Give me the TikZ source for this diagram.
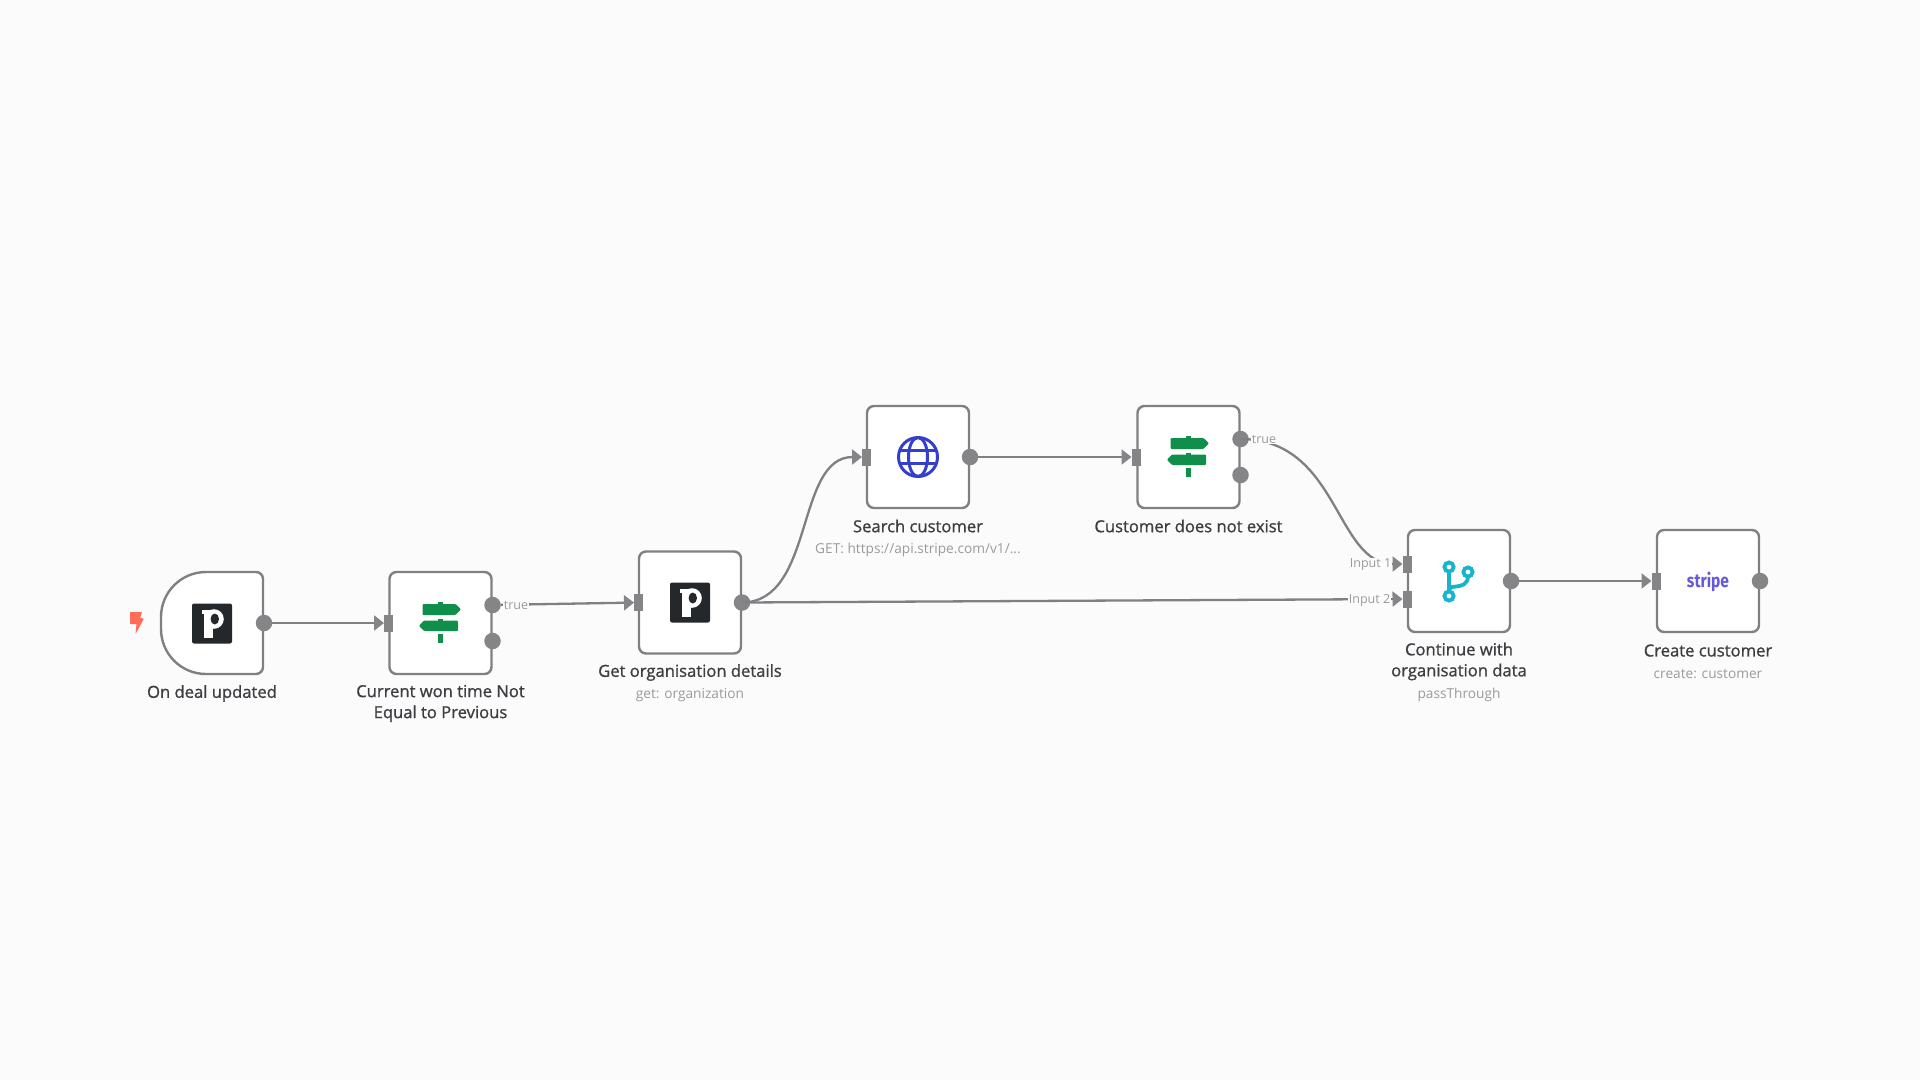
\documentclass[tikz,border=0pt]{standalone}
\usepackage{fontspec}
\setmainfont{Open Sans}
\newfontfamily\titlefont{Open Sans}[FakeBold=1]
\newfontfamily\stripefont{Fira Sans}
\usetikzlibrary{arrows.meta}
\definecolor{bgc}{HTML}{FBFBFB}
\definecolor{edgec}{HTML}{808084}
\definecolor{portc}{HTML}{858587}
\definecolor{titlec}{HTML}{3D3D42}
\definecolor{subc}{HTML}{9B9B9E}
\definecolor{greenc}{HTML}{108F4B}
\definecolor{bluec}{HTML}{3440CC}
\definecolor{tealc}{HTML}{16B5CC}
\definecolor{pdc}{HTML}{25282B}
\definecolor{stripec}{HTML}{635BDB}
\definecolor{boltc}{HTML}{FF6D5A}
\tikzset{
  box/.style={draw=edgec,line width=2.4pt,fill=white,rounded corners=7pt,minimum size=102pt,inner sep=0pt,outer sep=0pt},
  ghost/.style={minimum size=102pt,inner sep=0pt,outer sep=0pt},
  outport/.style={circle,fill=portc,minimum size=16.5pt,inner sep=0pt,outer sep=0pt},
  inport/.style={rectangle,fill=portc,minimum width=9pt,minimum height=17pt,inner sep=0pt,outer sep=0pt},
  wire/.style={draw=edgec,line width=2.3pt,-{Triangle[length=10pt,width=15pt,color=portc]}},
  title/.style={text=titlec,font=\titlefont\fontsize{16.6}{21}\selectfont,align=center,inner sep=0pt},
  subt/.style={text=subc,font=\fontsize{13.7}{18}\selectfont,align=center,inner sep=0pt},
  plabel/.style={text=subc,font=\fontsize{12.5}{14}\selectfont,fill=bgc,inner sep=0.5pt},
}
\newcommand{\pipeicon}[2]{%
  \begin{scope}[shift={(#1,#2)}]
    \fill[pdc,rounded corners=2pt] (-20,-20) rectangle (20,20);
    \fill[white] (-10.5,-14) rectangle (-1,-10);
    \fill[white] (-8,-14) rectangle (0.5,14);
    \fill[white] (2,-4.5) ellipse [x radius=9.8pt,y radius=9.8pt];
    \fill[pdc] (2.8,-4.5) ellipse [x radius=4.2pt,y radius=5.5pt];
  \end{scope}}
\newcommand{\signicon}[2]{%
  \begin{scope}[shift={(#1,#2)}]
    \fill[greenc,rounded corners=1pt] (-18,-19) -- (15,-19) -- (20.5,-13.7) -- (15,-8) -- (-18,-8) -- cycle;
    \fill[greenc,rounded corners=1pt] (17.5,-2.5) -- (-16.5,-2.5) -- (-21.5,2.7) -- (-16.5,8) -- (17.5,8) -- cycle;
    \fill[greenc] (-2.5,-21) rectangle (2.5,-18);
    \fill[greenc] (-2.5,-4.5) rectangle (2.5,-1.5);
    \fill[greenc] (-2.3,11) rectangle (2.3,20);
  \end{scope}}
\begin{document}
\begin{tikzpicture}[x=1pt,y=-1pt]
\useasboundingbox[fill=bgc] (0,0) rectangle (1920,1080);

% trigger shape
\filldraw[draw=edgec,line width=2.4pt,fill=white]
  (256,572) -- (206,572) arc[start angle=90,end angle=180,radius=45pt]
  -- (161,629) arc[start angle=180,end angle=270,radius=45pt]
  -- (256,674) arc[start angle=270,end angle=360,radius=7pt] -- (263,579) arc[start angle=0,end angle=90,radius=7pt] -- cycle;
\node[ghost] (trigger) at (212,623) {};
\node[box] (ifa) at (440.5,623) {};
\node[box] (getorg) at (690,602.5) {};
\node[box] (search) at (918,457) {};
\node[box] (ifb) at (1188.5,457) {};
\node[box] (merge) at (1459,581) {};
\node[box] (create) at (1708,581) {};

% ports
\node[outport] (o1) at (264,623) {};
\node[inport] (i2) at (388.5,623) {};
\node[outport] (o2t) at (492.5,605) {};
\node[outport] (o2f) at (492.5,641) {};
\node[inport] (i3) at (638.5,602.5) {};
\node[outport] (o3) at (742,602.5) {};
\node[inport] (i4) at (866.5,457) {};
\node[outport] (o4) at (970,457) {};
\node[inport] (i5) at (1136,457) {};
\node[outport] (o5t) at (1240.5,439) {};
\node[outport] (o5f) at (1240.5,475) {};
\node[inport] (i6a) at (1407,564) {};
\node[inport] (i6b) at (1407,599) {};
\node[outport] (o6) at (1511,581) {};
\node[inport] (i7) at (1656,581) {};
\node[outport] (o7) at (1760,581) {};

% connectors
\draw[wire] (o1) -- (i2);
\draw[wire] (o2t) -- (i3);
\draw[wire] (o3.center) .. controls (815,602) and (795,457) .. (i4);
\draw[wire] (o3) -- (i6b);
\draw[wire] (o4) -- (i5);
\draw[wire] (o5t.center) .. controls (1339,439) and (1335,564) .. (i6a);
\draw[wire] (o6) -- (i7);

% port labels
\node[plabel] (l1) at (516,605.5) {true};
\node[plabel] (l2) at (1264,439) {true};
\node[plabel,minimum height=11pt] (l3) at (1370.5,564.5) {Input 1};
\node[plabel] (l4) at (1369.5,600.5) {Input 2};

% bolt
\fill[boltc,rounded corners=0.6pt] (130,612) -- (142,612) -- (140,618) -- (144,618.5) -- (135.5,634) -- (136.5,624) -- (130,624) -- cycle;

% icons
\pipeicon{212}{623.5}
\signicon{440.5}{623}
\pipeicon{690}{602.5}
\begin{scope}[shift={(918,457)},draw=bluec,line width=3pt]
  \draw (0,0) circle [radius=19.5pt];
  \draw (0,0) ellipse [x radius=9.5pt,y radius=19.5pt];
  \draw (-18,-6.5) -- (18,-6.5);
  \draw (-18,6.5) -- (18,6.5);
\end{scope}
\signicon{1188.5}{457}
\begin{scope}[draw=tealc,line width=3.8pt]
  \draw (1449,567) circle [radius=4.6pt];
  \draw (1468,572) circle [radius=4.6pt];
  \draw (1449,596) circle [radius=4.6pt];
  \draw (1449,571) -- (1449,592);
  \draw (1468,576) .. controls (1468,584) and (1462,586) .. (1456,586.5) -- (1452,587) -- (1449,589);
\end{scope}
\node[text=stripec,font=\stripefont\fontsize{19}{20}\selectfont\bfseries,inner sep=0pt] (stripelogo) at (1708,582) {\scalebox{0.82}[1]{stripe}};

% titles
\node[title] (t1) at (212,693.5) {On deal updated};
\node[title] (t2) at (440.5,703.5) {Current won time Not\\Equal to Previous};
\node[title] (t3) at (690,672.5) {Get organisation details};
\node[subt] (s3) at (690,695) {get: organization};
\node[title] (t4) at (918,526) {Search customer};
\node[subt] (s4) at (918,550) {GET: https://api.stripe.com/v1/...};
\node[title] (t5) at (1188.5,526) {Customer does not exist};
\node[title] (t6) at (1459,661.5) {Continue with\\organisation data};
\node[subt] (s6) at (1459,695) {passThrough};
\node[title] (t7) at (1708,650.5) {Create customer};
\node[subt] (s7) at (1708,674) {create: customer};
\end{tikzpicture}
\end{document}
